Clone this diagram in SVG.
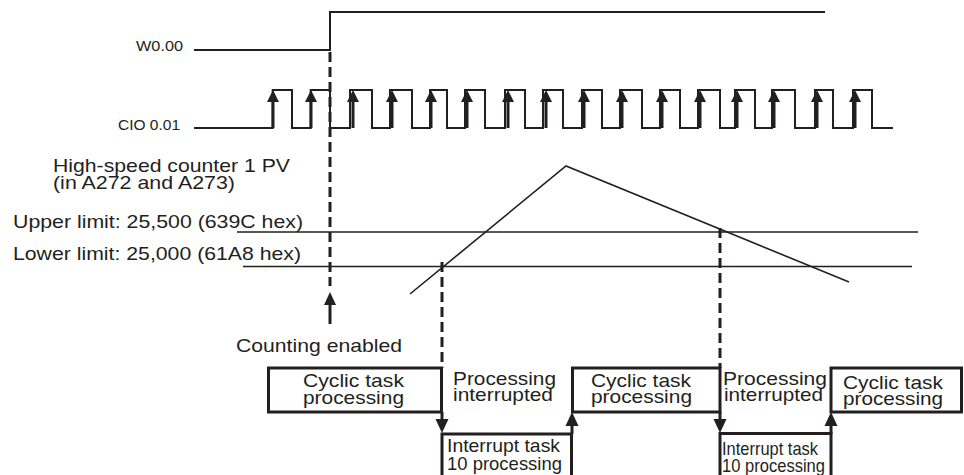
<svg xmlns="http://www.w3.org/2000/svg" xmlns:xlink="http://www.w3.org/1999/xlink" width="964" height="475" viewBox="0 0 964 475">
<style>
text{font-family:"Liberation Sans",Arial,sans-serif;fill:#231f20}
.s{font-size:14.5px}
.m{font-size:19px}
.sig{fill:none;stroke:#231f20;stroke-width:2}
.thin{fill:none;stroke:#231f20;stroke-width:1.6}
.box{fill:#fff;stroke:#231f20;stroke-width:3}
.dash{fill:none;stroke:#231f20;stroke-width:3;stroke-dasharray:10 5}
.sh{fill:none;stroke:#231f20;stroke-width:3}
.hd{fill:#231f20}
</style>
<defs>
<g id="pa"><line class="sh" x1="0" y1="100" x2="0" y2="128"/><polygon class="hd" points="0,90 -6,102 6,102"/></g>
</defs>
<rect width="964" height="475" fill="#fff"/>

<g id="w000">
<text class="s" x="183" y="51" text-anchor="end" textLength="47" lengthAdjust="spacingAndGlyphs">W0.00</text>
<path class="sig" d="M194,50 H330 V12 H825"/>
</g>

<g id="cio001">
<text class="s" x="118" y="130" textLength="62" lengthAdjust="spacingAndGlyphs">CIO 0.01</text>
<path class="sig" d="M194,128 H272.7 V90 H292 V128 H310.7 V90 H330 V128 H350 V90 H372 V128 H390 V90 H412 V128 H430 V90 H447 V128 H465 V90 H485 V128 H505 V90 H525 V128 H543 V90 H563 V128 H582 V90 H602 V128 H620 V90 H642 V128 H660 V90 H680 V128 H698 V90 H720 V128 H735 V90 H755 V128 H772 V90 H795 V128 H815 V90 H833 V128 H853 V90 H872 V128 H893"/>
<use xlink:href="#pa" x="273"/>
<use xlink:href="#pa" x="311"/>
<use xlink:href="#pa" x="353"/>
<use xlink:href="#pa" x="392"/>
<use xlink:href="#pa" x="431"/>
<use xlink:href="#pa" x="467"/>
<use xlink:href="#pa" x="508"/>
<use xlink:href="#pa" x="546"/>
<use xlink:href="#pa" x="584"/>
<use xlink:href="#pa" x="622"/>
<use xlink:href="#pa" x="662"/>
<use xlink:href="#pa" x="700"/>
<use xlink:href="#pa" x="737"/>
<use xlink:href="#pa" x="774"/>
<use xlink:href="#pa" x="817"/>
<use xlink:href="#pa" x="855"/>
</g>

<g id="pv">
<text class="m" x="53" y="172" textLength="237" lengthAdjust="spacingAndGlyphs">High-speed counter 1 PV</text>
<text class="m" x="53" y="189" textLength="182" lengthAdjust="spacingAndGlyphs">(in A272 and A273)</text>
<path class="thin" d="M410,294 L566,166 L849,282"/>
</g>

<g id="upper">
<line class="thin" x1="237" y1="232" x2="918" y2="232"/>
<text class="m" x="13" y="228" textLength="290" lengthAdjust="spacingAndGlyphs">Upper limit: 25,500 (639C hex)</text>
</g>

<g id="lower">
<line class="thin" x1="243" y1="266.5" x2="912" y2="266.5"/>
<text class="m" x="13" y="260" textLength="288" lengthAdjust="spacingAndGlyphs">Lower limit: 25,000 (61A8 hex)</text>
</g>

<g id="counting">
<text class="m" x="236" y="352" textLength="166" lengthAdjust="spacingAndGlyphs">Counting enabled</text>
</g>

<g id="cyclic1">
<rect class="box" x="268.5" y="368" width="173" height="44"/>
<text class="m" x="303" y="387" textLength="101" lengthAdjust="spacingAndGlyphs">Cyclic task</text>
<text class="m" x="303" y="404" textLength="101" lengthAdjust="spacingAndGlyphs">processing</text>
</g>

<g id="interrupted1">
<text class="m" x="453" y="385" textLength="103" lengthAdjust="spacingAndGlyphs">Processing</text>
<text class="m" x="453" y="401" textLength="100" lengthAdjust="spacingAndGlyphs">interrupted</text>
</g>

<g id="interrupt1">
<path class="box" d="M442,480 V434 H571.5 V480"/>
<text class="m" x="447" y="452" textLength="113" lengthAdjust="spacingAndGlyphs">Interrupt task</text>
<text class="m" x="447" y="470" textLength="115" lengthAdjust="spacingAndGlyphs">10 processing</text>
</g>

<g id="cyclic2">
<rect class="box" x="572.5" y="368" width="147.5" height="44"/>
<text class="m" x="591" y="387" textLength="100" lengthAdjust="spacingAndGlyphs">Cyclic task</text>
<text class="m" x="591" y="403" textLength="101" lengthAdjust="spacingAndGlyphs">processing</text>
</g>

<g id="interrupted2">
<text class="m" x="723" y="385" textLength="104" lengthAdjust="spacingAndGlyphs">Processing</text>
<text class="m" x="724" y="401" textLength="99" lengthAdjust="spacingAndGlyphs">interrupted</text>
</g>

<g id="interrupt2">
<path class="box" d="M720,480 V433.5 H831 V480"/>
<text class="m" x="722" y="455" textLength="96" lengthAdjust="spacingAndGlyphs">Interrupt task</text>
<text class="m" x="722" y="472" textLength="103" lengthAdjust="spacingAndGlyphs">10 processing</text>
</g>

<g id="cyclic3">
<rect class="box" x="831" y="368" width="130.5" height="44"/>
<text class="m" x="843" y="389" textLength="100" lengthAdjust="spacingAndGlyphs">Cyclic task</text>
<text class="m" x="843" y="405" textLength="100" lengthAdjust="spacingAndGlyphs">processing</text>
</g>

<g id="connectors">
<line class="dash" x1="330" y1="52" x2="330" y2="286"/>
<line class="sh" x1="330" y1="303" x2="330" y2="324"/>
<polygon class="hd" points="330,292 324,305 336,305"/>
<line class="dash" x1="442" y1="262" x2="442" y2="368"/>
<line class="sh" x1="442" y1="412" x2="442" y2="420"/>
<polygon class="hd" points="442,433 435.5,419 448.5,419"/>
<line class="sh" x1="572" y1="434" x2="572" y2="424"/>
<polygon class="hd" points="572,412 565.5,426 578.5,426"/>
<line class="dash" x1="720" y1="228" x2="720" y2="368"/>
<line class="sh" x1="720" y1="412" x2="720" y2="420"/>
<polygon class="hd" points="720,433 713.5,419 726.5,419"/>
<line class="sh" x1="831" y1="434" x2="831" y2="424"/>
<polygon class="hd" points="831,412 824.5,426 837.5,426"/>
</g>
</svg>
